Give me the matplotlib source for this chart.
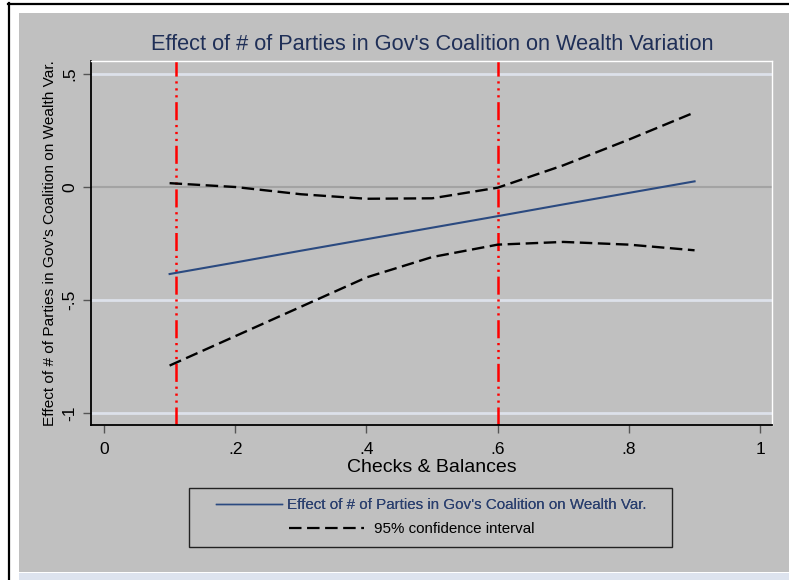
#!/usr/bin/env python3
# coding=utf-8
import matplotlib
matplotlib.use("Agg")
from matplotlib import pyplot as plt
from matplotlib.patches import Rectangle
from matplotlib.lines import Line2D

# values
checks = [0.1, 0.2, 0.3, 0.4, 0.5, 0.6, 0.7, 0.8, 0.9]
effect = [-0.385, -0.334, -0.282, -0.231, -0.180, -0.129, -0.077, -0.026, 0.025]
upper = [0.017, 0.0, -0.032, -0.052, -0.050, -0.003, 0.096, 0.210, 0.330]
lower = [-0.790, -0.660, -0.530, -0.400, -0.310, -0.255, -0.243, -0.255, -0.280]
vlines = [0.11, 0.6]
xticks = [0, 0.2, 0.4, 0.6, 0.8, 1]
xtick_labels = ["0", ".2", ".4", ".6", ".8", "1"]
yticks = [-1, -0.5, 0, 0.5]
ytick_labels = ["-1", "-.5", "0", ".5"]

plt.rcParams['font.family'] = ['Liberation Sans', 'DejaVu Sans']
plt.rcParams['lines.scale_dashes'] = False

W, H = 789, 580
fig = plt.figure(figsize=(W / 100, H / 100), dpi=100)
fig.patch.set_facecolor('white')

def fx(px):
    return px / W

def fy(py):
    return 1 - py / H

# gray graph region and outer border
fig.patches.append(Rectangle((fx(19), fy(572)), fx(789 - 19), (572 - 13) / H,
                             transform=fig.transFigure, facecolor='#c0c0c0',
                             edgecolor='none', zorder=-5))
fig.lines.append(Line2D([fx(8), 1], [fy(3.5), fy(3.5)], transform=fig.transFigure,
                        color='black', lw=1.6))
fig.lines.append(Line2D([fx(8.5), fx(8.5)], [fy(3), 0], transform=fig.transFigure,
                        color='black', lw=1.6))
fig.patches.append(Rectangle((fx(19), fy(580)), 1, 7 / H, transform=fig.transFigure,
                             facecolor='#dde3ee', edgecolor='none', zorder=-5))

ax = fig.add_axes([fx(91), fy(425), fx(772 - 91), (425 - 61) / H])
ax.set_zorder(2)
ax.set_facecolor('#c0c0c0')
ax.set_xlim(-0.0198, 1.018)
ax.set_ylim(-1.053, 0.5575)

for y in yticks:
    if y == 0:
        ax.axhline(y, color='#a3a3a3', lw=1.5, zorder=1)
    else:
        ax.axhline(y, color='#dde1ea', lw=2, zorder=1)

for v in vlines:
    ax.axvline(v, color='#ff0000', lw=1.8, dashes=(13, 3.4, 1.6, 3.4, 1.6, 3.4, 1.6, 3.4),
               zorder=2)

ax.plot(checks, effect, color='#2b4a80', lw=1.5, zorder=3)
ax.plot(checks, upper, color='black', lw=1.7, dashes=(9, 4), zorder=3)
ax.plot(checks, lower, color='black', lw=1.7, dashes=(9, 4), zorder=3)

ax.set_xticks(xticks)
ax.set_xticklabels(xtick_labels, fontsize=12.5)
ax.set_yticks(yticks)
ax.set_yticklabels(ytick_labels, rotation=90, va='center', fontsize=12.5)
ax.tick_params(axis='both', direction='out', length=6, width=1, color='#555555', pad=6)
ax.tick_params(axis='y', pad=4)

for s in ['left', 'bottom']:
    ax.spines[s].set_color('black')
    ax.spines[s].set_linewidth(1.3)
for s in ['top', 'right']:
    ax.spines[s].set_color('white')
    ax.spines[s].set_linewidth(1)

fig.text(fx(432), fy(45), "Effect of # of Parties in Gov's Coalition on Wealth Variation",
         ha='center', va='center', fontsize=15.7, color='#1f2f57')
fig.text(fx(432), fy(467), "Checks & Balances", ha='center', va='center', fontsize=14)
fig.text(fx(50), fy(243), "Effect of # of Parties in Gov's Coalition on Wealth Var.",
         ha='center', va='center', rotation=90, fontsize=11.1)

# legend box with two centred rows
fig.patches.append(Rectangle((fx(189), fy(547)), fx(672 - 189), (547 - 488) / H,
                             transform=fig.transFigure, facecolor='none',
                             edgecolor='#222222', lw=1, zorder=5))
h1 = Line2D([], [], color='#2b4a80', lw=1)
h2 = Line2D([], [], color='black', lw=1.6, dashes=(9, 4))
leg1 = fig.legend([h1], ["Effect of # of Parties in Gov's Coalition on Wealth Var."],
                  loc='center', bbox_to_anchor=(fx(431), fy(505)), frameon=False,
                  fontsize=10.9, handlelength=4.4, handletextpad=0.3,
                  borderpad=0, borderaxespad=0)
for t in leg1.get_texts():
    t.set_color('#2a3f6e')
leg2 = fig.legend([h2], ["95% confidence interval"],
                  loc='center', bbox_to_anchor=(fx(412), fy(529)), frameon=False,
                  fontsize=10.9, handlelength=4.9, handletextpad=0.7,
                  borderpad=0, borderaxespad=0)
fig.add_artist(leg1)

plt.savefig('out.png', dpi=100)
